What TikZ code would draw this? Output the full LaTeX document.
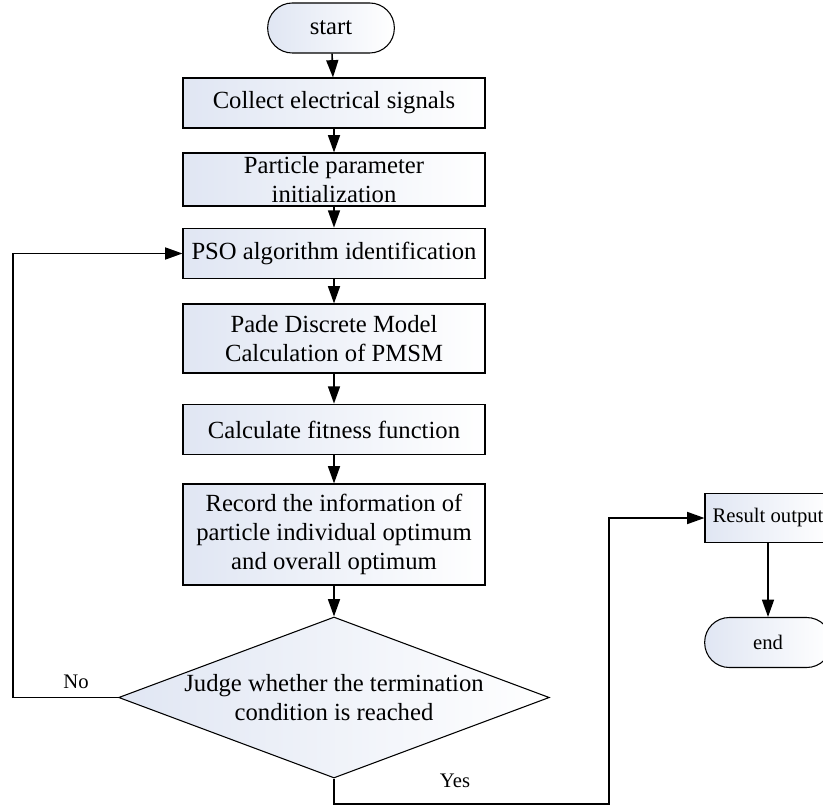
\documentclass[tikz,border=0pt]{standalone}
\usepackage{fontspec}
\setmainfont{Liberation Serif}
\usetikzlibrary{shapes.geometric,arrows.meta}
\definecolor{boxblue}{RGB}{224,230,243}

\begin{document}
\begin{tikzpicture}[x=0.75pt, y=-0.75pt,
    bigtext/.style={font=\fontsize{18.5}{22}\selectfont},
    smalltext/.style={font=\fontsize{15.5}{18}\selectfont},
    shade/.style={left color=boxblue, right color=white},
    procbox/.style={draw, line width=0.8pt, shade, bigtext, align=center,
        inner sep=0pt, minimum width=226.5pt},
    terminal/.style={draw, line width=0.8pt, shade, inner sep=0pt,
        minimum width=95pt, minimum height=37.5pt, rounded corners=18.5pt},
    decision/.style={diamond, draw, line width=0.8pt, shade, inner sep=0pt,
        minimum width=323pt, minimum height=120.75pt},
    flow/.style={line width=1.2pt, -{Triangle[length=13pt,width=9pt]}}]
    % page size
    \useasboundingbox (0,0) rectangle (823,809);

    % main column
    \node (start) [terminal, bigtext] at (331,28) {start};
    \node (collect) [procbox, minimum height=37.5pt] at (334,103) {Collect electrical signals};
    \node (init) [procbox, minimum height=39.75pt] at (334,179.5) {Particle parameter\\initialization};
    \node (pso) [procbox, minimum height=38pt] at (334,253.5) {PSO algorithm identification};
    \node (pade) [procbox, minimum height=51.75pt] at (334,338.5) {Pade Discrete Model\\Calculation of PMSM};
    \node (fitness) [procbox, minimum height=38pt] at (334,429.5) {Calculate fitness function};
    \node (record) [procbox, minimum height=75.75pt] at (334,534.5) {Record the information of\\particle individual optimum\\and overall optimum};
    \node (judge) [decision, label={[name=judgetext, bigtext, align=center]center:Judge whether the termination\\condition is reached}] at (334,697.5) {};

    % right column
    \node (result) [procbox, smalltext, minimum width=94.5pt, minimum height=36.75pt] at (768,518) {Result output};
    \node (end) [terminal, smalltext] at (768,642.5) {end};

    % arrows down the column
    \draw[flow] (start) -- (collect);
    \draw[flow] (collect) -- (init);
    \draw[flow] (init) -- (pso);
    \draw[flow] (pso) -- (pade);
    \draw[flow] (pade) -- (fitness);
    \draw[flow] (fitness) -- (record);
    \draw[flow] (record) -- (judge);
    \draw[flow] (result) -- (end);

    % No: back to the PSO step
    \coordinate (nocorner) at (13,697.5);
    \draw[flow] (judge.west) -- (nocorner) |- (pso);
    \node (nolabel) [smalltext] at (76,682) {No};

    % Yes: on to the output
    \coordinate (yesdown) at (334,804);
    \coordinate (yesup) at (609,804);
    \draw[flow] (judge.south) -- (yesdown) -- (yesup) |- (result);
    \node (yeslabel) [smalltext] at (455,781) {Yes};
\end{tikzpicture}
\end{document}
